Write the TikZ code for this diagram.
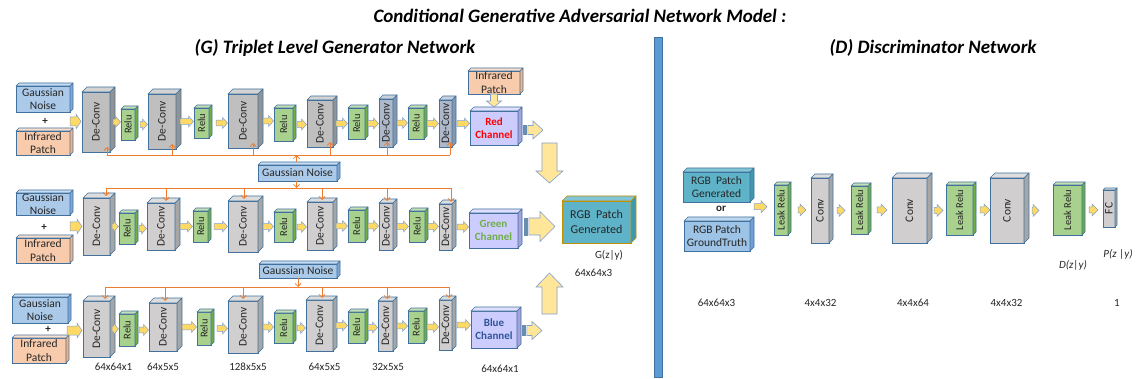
\documentclass[tikz,border=0pt]{standalone}
\usepackage{fontspec}
\setmainfont{Carlito}
\usetikzlibrary{calc,patterns,arrows.meta}

% palette
\definecolor{edge}{HTML}{41719C}
\definecolor{ink}{HTML}{262626}
\definecolor{greyF}{HTML}{D0CECE}\definecolor{greyT}{HTML}{DEDDDD}\definecolor{greyS}{HTML}{A6A6A6}
\definecolor{darkF}{HTML}{BFBFBF}\definecolor{darkT}{HTML}{D3D3D3}\definecolor{darkS}{HTML}{939393}
\definecolor{slateF}{HTML}{ADB9CA}\definecolor{slateT}{HTML}{C8D0DB}\definecolor{slateS}{HTML}{8497B0}
\definecolor{reluF}{HTML}{A9D18E}\definecolor{reluT}{HTML}{C5E0B4}\definecolor{reluS}{HTML}{70AD47}
\definecolor{noiseF}{HTML}{A9C9EA}\definecolor{noiseT}{HTML}{C5DCF2}\definecolor{noiseS}{HTML}{7EA6D6}
\definecolor{infraF}{HTML}{F8CBAD}\definecolor{infraT}{HTML}{FBE0CE}\definecolor{infraS}{HTML}{F4B183}
\definecolor{chanF}{HTML}{CCCCFF}\definecolor{chanT}{HTML}{DFDFFF}\definecolor{chanS}{HTML}{A3A3DD}
\definecolor{tealF}{HTML}{5FB3C8}\definecolor{tealT}{HTML}{82C5D6}\definecolor{tealS}{HTML}{3F98AE}
\definecolor{gold}{HTML}{BF9000}
\definecolor{gtF}{HTML}{9DC3E6}\definecolor{gtT}{HTML}{BDD7EE}\definecolor{gtS}{HTML}{6F9FD4}
\definecolor{arrowY}{HTML}{FFD966}\definecolor{arrowL}{HTML}{FFE699}\definecolor{arrowE}{HTML}{7F9FD0}
\definecolor{busO}{HTML}{ED7D31}
\definecolor{sepB}{HTML}{5B9BD5}
\definecolor{chanRed}{HTML}{FF0000}\definecolor{chanGreen}{HTML}{70AD47}\definecolor{chanBlue}{HTML}{2F5597}

\tikzset{
  solid box/.style={draw=edge, line width=.6pt, inner sep=0pt, outer sep=0pt,
    text=ink, align=center, font=\fontsize{11.5}{13.5}\selectfont},
  face/.style={draw=edge, line width=.6pt, line join=round},
  yarrow/.style={fill=arrowY, draw=arrowE, line width=.5pt, line join=miter},
  bigarrow/.style={fill=arrowL, draw=arrowE, line width=.6pt, line join=miter},
  stripe/.style={fill=edge!55, draw=edge!80, line width=.3pt},
  bus/.style={draw=busO, line width=.8pt},
  tap/.style={bus, -{Straight Barb[length=3pt,width=6pt,line width=.8pt]}},
  lab/.style={font=\fontsize{11}{13}\selectfont, text=ink, inner sep=0pt},
  heading/.style={font=\fontsize{19}{22}\selectfont\bfseries\itshape, text=black, inner sep=0pt},
}

% a box style with its lit top face and shaded side face
\newcommand\cubestyle[4]{\tikzset{#1/.style={solid box, fill=#2},
  #1 top/.style={face, fill=#3}, #1 side/.style={face, fill=#4}}}
\cubestyle{dc}{greyF}{greyT}{greyS}
\cubestyle{dcdark}{darkF}{darkT}{darkS}
\cubestyle{dcslate}{slateF}{slateT}{slateS}
\cubestyle{relu}{reluF}{reluT}{reluS}
\cubestyle{noise}{noiseF}{noiseT}{noiseS}
\cubestyle{infra}{infraF}{infraT}{infraS}
\cubestyle{chan}{chanF}{chanT}{chanS}
\cubestyle{rgbout}{tealF}{tealT}{tealS}
\cubestyle{rgbin}{tealF}{tealT}{tealS}
\cubestyle{truth}{gtF}{gtT}{gtS}
\tikzset{
  relu/.append style={font=\fontsize{10.5}{12}\selectfont},
  noise/.append style={preaction={fill=noiseF}, pattern=crosshatch dots, pattern color=noiseS!55},
  rgbout/.append style={draw=gold, font=\fontsize{12}{14.5}\selectfont},
  rgbout top/.append style={draw=gold},
  rgbout side/.append style={draw=gold},
  chan/.append style={font=\fontsize{11}{13}\selectfont\bfseries},
}

% \cube[extra]{name}{x1}{y1}{x2}{y2}{depth}{style}{text}: front face plus top and side faces
\newcommand\cube[9][]{%
  \node[#8, #1, minimum width={#5-#3}, minimum height={#6-#4}] (#2)
    at ({(#3+#5)/2},{(#4+#6)/2}) {#9};
  \filldraw[#8 top] (#2.north west) -- ++(#7,-#7) -- ++({#5-#3},0) -- (#2.north east) -- cycle;
  \filldraw[#8 side] (#2.north east) -- ++(#7,-#7) -- ++(0,{#6-#4}) -- (#2.south east) -- cycle;
}

% \blockarrow[style]{from}{to}{body half width}{head half width}{head length}
\newcommand\blockarrow[6][yarrow]{%
  \coordinate (ba-s) at (#2);
  \coordinate (ba-t) at (#3);
  \coordinate (ba-h) at ($(ba-t)!#6pt!(ba-s)$);
  \filldraw[#1] ($(ba-s)!#4pt!90:(ba-t)$) -- ($(ba-h)!#4pt!-90:(ba-s)$)
    -- ($(ba-h)!#5pt!-90:(ba-s)$) -- (ba-t) -- ($(ba-h)!#5pt!90:(ba-s)$)
    -- ($(ba-h)!#4pt!90:(ba-s)$) -- ($(ba-s)!#4pt!-90:(ba-t)$) -- cycle;
}
% block arrow with two stripes at its tail
\newcommand\stripedarrow[6][bigarrow]{%
  \coordinate (sa-s) at (#2);
  \coordinate (sa-t) at (#3);
  \coordinate (sa-a) at ($(sa-s)!1pt!(sa-t)$);
  \coordinate (sa-b) at ($(sa-s)!2.2pt!(sa-t)$);
  \coordinate (sa-c) at ($(sa-s)!3.6pt!(sa-t)$);
  \coordinate (sa-d) at ($(sa-s)!4.8pt!(sa-t)$);
  \filldraw[stripe] ($(sa-s)!#4pt!90:(sa-t)$) rectangle ($(sa-a)!#4pt!-90:(sa-t)$);
  \filldraw[stripe] ($(sa-b)!#4pt!90:(sa-t)$) rectangle ($(sa-c)!#4pt!-90:(sa-t)$);
  \blockarrow[#1]{sa-d}{sa-t}{#4}{#5}{#6}%
}
% small arrow from one layer to the next
\newcommand\link[3]{\blockarrow{[xshift=#3pt]#1.east}{$(ba-s -| #2.west)+(-0.5,0)$}{2.8}{5.5}{5}}
\newcommand\dlink[4]{\blockarrow{[xshift=#3pt]#1.east}{$(ba-s -| #2.west)+(-#4,0)$}{3}{6}{6}}
% noise taps from a bus into a layer
\newcommand\tapup[3]{\draw[tap] ($(#1.south west |- #3)+(#2,0)$) -- ($(#1.south west)+(#2,-5)$);}
\newcommand\tapdown[3]{\draw[tap] ($(#1.north west |- #3)+(#2,0)$) -- ($(#1.north west)+(#2,-2)$);}

\newcommand\deconvtext{\rotatebox{90}{De-Conv}}
\newcommand\relutext{\rotatebox{90}{Relu}}
\newcommand\convtext{\rotatebox{90}{Conv}}
\newcommand\leaktext{\rotatebox{90}{Leak Relu}}

\begin{document}
\begin{tikzpicture}[x=1pt,y=-1pt]
\useasboundingbox (0,0) rectangle (1137,379);

% ---------------- headings and divider
\node[heading] (title) at (580,16) {Conditional Generative Adversarial Network Model :};
\node[heading] (gtitle) at (335,48) {(G) Triplet Level Generator Network};
\node[heading] (dtitle) at (933,48) {(D) Discriminator Network};
\node[fill=sepB, draw=edge, line width=.5pt, inner sep=0pt, minimum width=8,
  minimum height=340] (divider) at (658,207) {};

% ---------------- generator: red row
\cube{gn1}{16}{86}{70}{112}{3}{noise}{Gaussian\\Noise}
\cube{ir1}{16}{131}{70}{155}{3}{infra}{Infrared\\Patch}
\node[lab, font=\fontsize{11}{13}\selectfont\bfseries] (plus1) at (45,121) {+};
\cube{d11}{82}{92}{110}{152}{5}{dcdark}{\deconvtext}
\cube{r11}{121}{109}{135}{140}{3}{relu}{\relutext}
\cube{d12}{148}{94}{176}{149}{5}{dcdark}{\deconvtext}
\cube{r12}{194}{108}{209}{138}{3}{relu}{\relutext}
\cube{d13}{228}{94}{258}{148}{5}{dcdark}{\deconvtext}
\cube{r13}{274}{108}{293}{141}{3}{relu}{\relutext}
\cube{d14}{307}{100}{333}{147}{4}{dcdark}{\deconvtext}
\cube{r14}{348}{108}{365}{139}{3}{relu}{\relutext}
\cube{d15}{379}{99}{393}{147}{4}{dcslate}{\deconvtext}
\cube{r15}{408}{108}{424}{139}{3}{relu}{\relutext}
\cube{d16}{439}{100}{452}{147}{4}{dcslate}{\deconvtext}
\cube[text=chanRed]{red}{470}{111}{518}{145}{4}{chan}{Red\\Channel}
\cube{irtop}{468}{71}{520}{94}{3}{infra}{Infrared\\Patch}

\blockarrow{$(gn1.south east)!.5!(ir1.north east)$}{$(ba-s -| d11.west)+(-1,0)$}{4.5}{7.5}{5}
\link{d11}{r11}{3}
\link{r11}{d12}{5}
\link{d12}{r12}{4}
\link{r12}{d13}{7}
\link{d13}{r13}{5}
\link{r13}{d14}{4}
\link{d14}{r14}{3}
\link{r14}{d15}{3}
\link{d15}{r15}{4}
\link{r15}{d16}{3}
\link{d16}{red}{5}
\blockarrow[bigarrow]{irtop.south}{$(red.north)+(0,-4)$}{3.5}{7.5}{6}
\stripedarrow{$(red.east)+(5,2)$}{$(sa-s)+(20,0)$}{4.5}{9}{10}

% ---------------- generator: green row
\cube{gn2}{16}{193}{70}{215}{3}{noise}{Gaussian\\Noise}
\cube{ir2}{16}{238}{70}{263}{3}{infra}{Infrared\\Patch}
\node[lab, font=\fontsize{11}{13}\selectfont\bfseries] (plus2) at (44,227) {+};
\cube{d21}{83}{198}{110}{255}{5}{dc}{\deconvtext}
\cube{r21}{119}{213}{135}{244}{3}{relu}{\relutext}
\cube{d22}{147}{203}{175}{250}{5}{dc}{\deconvtext}
\cube{r22}{193}{211}{208}{242}{3}{relu}{\relutext}
\cube{d23}{228}{201}{258}{252}{5}{dc}{\deconvtext}
\cube{r23}{274}{212}{293}{242}{3}{relu}{\relutext}
\cube{d24}{307}{202}{333}{250}{4}{dc}{\deconvtext}
\cube{r24}{348}{210}{365}{242}{3}{relu}{\relutext}
\cube{d25}{379}{203}{393}{250}{4}{dc}{\deconvtext}
\cube{r25}{409}{211}{425}{242}{3}{relu}{\relutext}
\cube{d26}{439}{204}{452}{250}{4}{dc}{\deconvtext}
\cube[text=chanGreen]{green}{469}{213}{518}{248}{4}{chan}{Green\\Channel}

\blockarrow{$(gn2.south east)!.5!(ir2.north east)$}{$(ba-s -| d21.west)+(-1,0)$}{4.5}{7.5}{5}
\link{d21}{r21}{2}
\link{r21}{d22}{4}
\link{d22}{r22}{5}
\link{r22}{d23}{6}
\link{d23}{r23}{5}
\link{r23}{d24}{4}
\link{d24}{r24}{3}
\link{r24}{d25}{3}
\link{d25}{r25}{4}
\link{r25}{d26}{3}
\link{d26}{green}{5}

% ---------------- generator: blue row
\cube{gn3}{12}{297}{68}{323}{3}{noise}{Gaussian\\Noise}
\cube{ir3}{12}{338}{66}{363}{3}{infra}{Infrared\\Patch}
\node[lab, font=\fontsize{11}{13}\selectfont\bfseries] (plus3) at (48,329) {+};
\cube{d31}{83}{301}{110}{357}{5}{dc}{\deconvtext}
\cube{r31}{119}{314}{135}{346}{3}{relu}{\relutext}
\cube{d32}{149}{303}{177}{351}{5}{dc}{\deconvtext}
\cube{r32}{197}{312}{211}{345}{3}{relu}{\relutext}
\cube{d33}{228}{301}{258}{353}{5}{dc}{\deconvtext}
\cube{r33}{274}{313}{293}{343}{3}{relu}{\relutext}
\cube{d34}{306}{300}{333}{351}{4}{dc}{\deconvtext}
\cube{r34}{348}{312}{365}{343}{3}{relu}{\relutext}
\cube{d35}{378}{301}{393}{351}{4}{dc}{\deconvtext}
\cube{r35}{408}{311}{424}{343}{3}{relu}{\relutext}
\cube{d36}{439}{300}{452}{350}{4}{dc}{\deconvtext}
\cube[text=chanBlue]{blue}{471}{311}{517}{348}{4}{chan}{Blue\\Channel}

\blockarrow{$(gn3.south east)!.5!(ir3.north east)$}{$(ba-s -| d31.west)+(-1,0)$}{4.5}{7.5}{5}
\link{d31}{r31}{2}
\link{r31}{d32}{4}
\link{d32}{r32}{5}
\link{r32}{d33}{6}
\link{d33}{r33}{5}
\link{r33}{d34}{4}
\link{d34}{r34}{3}
\link{r34}{d35}{3}
\link{d35}{r35}{4}
\link{r35}{d36}{3}
\link{d36}{blue}{5}

% ---------------- shared Gaussian noise feeding the De-Conv layers
\coordinate (bus1) at (0,155);
\coordinate (bus2) at (0,188);
\coordinate (bus3) at (0,287);
\cube{gm1}{258}{165}{337}{181}{3}{noise}{Gaussian Noise}
\cube{gm2}{259}{264}{337}{278}{3}{noise}{Gaussian Noise}

\draw[bus] ($(d11.south west |- bus1)+(25,0)$) -- ($(d16.south west |- bus1)+(11,0)$);
\draw[tap] ($(gm1.north)+(-1,-3)$) -- ($(gm1.north |- bus1)+(-1,0)$);
\tapup{d11}{25}{bus1}\tapup{d12}{24}{bus1}\tapup{d13}{25}{bus1}
\tapup{d14}{23}{bus1}\tapup{d15}{8}{bus1}\tapup{d16}{11}{bus1}

\draw[bus] ($(d21.north west |- bus2)+(23,0)$) -- ($(d26.north west |- bus2)+(12,0)$);
\draw[tap] ($(gm1.south)+(-1,0)$) -- ($(gm1.south |- bus2)+(-1,0)$);
\tapdown{d21}{23}{bus2}\tapdown{d22}{19}{bus2}\tapdown{d23}{16}{bus2}
\tapdown{d24}{15}{bus2}\tapdown{d25}{8}{bus2}\tapdown{d26}{12}{bus2}

\draw[bus] ($(d31.north west |- bus3)+(22,0)$) -- ($(d36.north west |- bus3)+(10,0)$);
\draw[tap] (gm2.south) -- (gm2.south |- bus3);
\tapdown{d31}{22}{bus3}\tapdown{d32}{16}{bus3}\tapdown{d33}{15}{bus3}
\tapdown{d34}{16}{bus3}\tapdown{d35}{9}{bus3}\tapdown{d36}{10}{bus3}

% ---------------- merging the three channels
\cube{rgbG}{562}{201}{631}{243}{5}{rgbout}{RGB\ \ Patch\\Generated}
\stripedarrow{$(green.east)+(6,-4)$}{$(sa-s -| rgbG.west)+(-7,0)$}{8.5}{15}{15}
\stripedarrow{$(blue.east)+(5,1)$}{$(sa-s)+(20,0)$}{5}{9}{10}
\coordinate (fromRed) at (549.5,143);
\coordinate (intoRGB) at (549.5,183);
\coordinate (fromBlue) at (549.5,314);
\coordinate (upRGB) at (549.5,273);
\blockarrow[bigarrow]{fromRed}{intoRGB}{7.5}{13.5}{12}
\blockarrow[bigarrow]{fromBlue}{upRGB}{7.5}{13.5}{14}

\node[lab] (gzy) at (609,255) {G(z|y)};
\node[lab] (gsize) at (593.5,273) {64x64x3};
\node[lab] (s1) at (113.5,367) {64x64x1};
\node[lab] (s2) at (163,367) {64x5x5};
\node[lab] (s3) at (248,367) {128x5x5};
\node[lab] (s4) at (324.5,367) {64x5x5};
\node[lab] (s5) at (388,367) {32x5x5};
\node[lab] (s6) at (500,369) {64x64x1};

% ---------------- discriminator
\cube{dRG}{683}{172}{750}{202}{4}{rgbin}{RGB\ \ Patch\\Generated}
\node[lab, font=\fontsize{11}{13}\selectfont\bfseries] (orword) at (721,209) {or};
\cube{dRT}{684}{221}{750}{251}{4}{truth}{RGB Patch\\GroundTruth}
\cube{lr1}{774}{185}{788}{235}{3}{relu}{\leaktext}
\cube{cv1}{811}{178}{829}{243}{4}{dc}{\convtext}
\cube{lr2}{851}{186}{868}{234}{3}{relu}{\leaktext}
\cube{cv2}{892}{178}{927}{243}{5}{dc}{\convtext}
\cube{lr3}{946}{185}{973}{235}{3}{relu}{\leaktext}
\cube{cv3}{990}{178}{1024}{243}{5}{dc}{\convtext}
\cube{lr4}{1053}{185}{1082}{235}{3}{relu}{\leaktext}
\cube{fc}{1103}{190}{1115}{227}{2}{dc}{\rotatebox{90}{FC}}
\blockarrow{$(dRG.south east)!.25!(dRT.north east)+(4,0)$}{$(ba-s -| lr1.west)+(-7,0)$}{3}{6}{6}
\dlink{lr1}{cv1}{10}{5}
\dlink{cv1}{lr2}{8}{6}
\dlink{lr2}{cv2}{9}{5}
\dlink{cv2}{lr3}{7}{3}
\dlink{lr3}{cv3}{7}{0}
\dlink{cv3}{lr4}{8}{14}
\dlink{lr4}{fc}{7}{5}

\node[lab] (dzy) at (1073,265) {\textit{D(z|y)}};
\node[lab] (pzy) at (1118,254) {\textit{P(z\ |y)}};
\node[lab] (t1) at (716.5,303) {64x64x3};
\node[lab] (t2) at (820.5,303) {4x4x32};
\node[lab] (t3) at (913,303) {4x4x64};
\node[lab] (t4) at (1006.5,303) {4x4x32};
\node[lab] (t5) at (1117,303) {1};
\end{tikzpicture}
\end{document}
